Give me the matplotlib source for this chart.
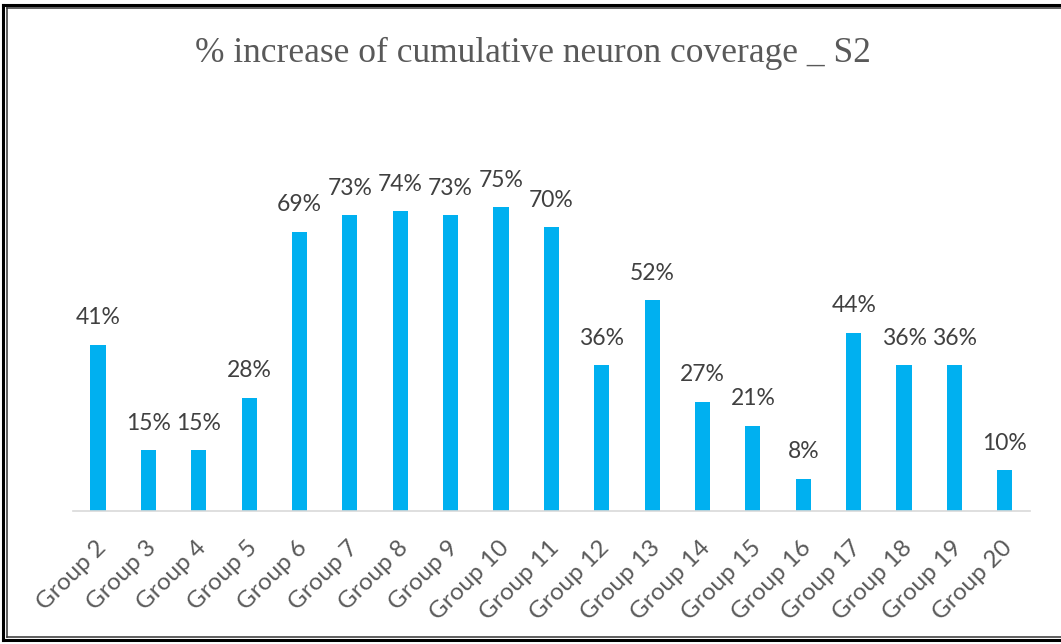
import matplotlib.pyplot as plt
import matplotlib.transforms as mtransforms
from matplotlib.lines import Line2D

groups = ["Group %d" % i for i in range(2, 21)]
increase = [41, 15, 15, 28, 69, 73, 74, 73, 75, 70, 36, 52, 27, 21, 8, 44, 36, 36, 10]

W, H = 1061, 644
fig = plt.figure(figsize=(W / 100, H / 100), dpi=100)
ax = fig.add_axes([72.8 / W, 1 - 511 / H, (1030 - 72.8) / W, (511 - 150.5) / H])

x = range(len(groups))
bars = ax.bar(x, increase, width=0.3, color="#00B0F0", zorder=2)

for xi, v in zip(x, increase):
    ax.annotate("%d%%" % v, (xi, v), xytext=(0, 12), textcoords="offset points",
                ha="center", va="bottom", fontsize=16.5, color="#404040",
                family="Lato")

ax.set_xlim(-0.5, len(groups) - 0.5)
ax.set_ylim(0, 89)
ax.set_xticks(list(x))
ax.set_xticklabels(groups, rotation=45, ha="right", va="top", rotation_mode="anchor",
                   fontsize=17.5, color="#595959", family="Lato")
ax.tick_params(axis="x", length=0, pad=19)
# nudge the slanted labels slightly left
shift = mtransforms.ScaledTranslation(-3 / 100, 0, fig.dpi_scale_trans)
for lbl in ax.get_xticklabels():
    lbl.set_transform(lbl.get_transform() + shift)
ax.set_yticks([])
for side in ["top", "right", "left"]:
    ax.spines[side].set_visible(False)
ax.spines["bottom"].set_color("#D9D9D9")
ax.spines["bottom"].set_linewidth(1.2)

fig.text(533 / W, 1 - 53 / H, "% increase of cumulative neuron coverage _ S2",
         ha="center", va="center", fontsize=25.5, color="#595959",
         family="Liberation Serif")

# double frame around the chart area
def hline(y, x0, x1, lw, c):
    fig.add_artist(Line2D([x0 / W, x1 / W], [1 - y / H, 1 - y / H], lw=lw, color=c,
                          transform=fig.transFigure))

def vline(xp, y0, y1, lw, c):
    fig.add_artist(Line2D([xp / W, xp / W], [1 - y0 / H, 1 - y1 / H], lw=lw, color=c,
                          transform=fig.transFigure))

hline(4.5, 2.5, W, 2.2, "black")
hline(640, 2.5, W, 2.2, "black")
vline(2.5, 4.5, 640, 2.2, "black")
hline(8, 7, W, 1.1, "#333333")
hline(636.5, 7, W, 1.1, "#333333")
vline(7, 8, 636.5, 1.1, "#333333")

fig.savefig("out.png", dpi=100)
